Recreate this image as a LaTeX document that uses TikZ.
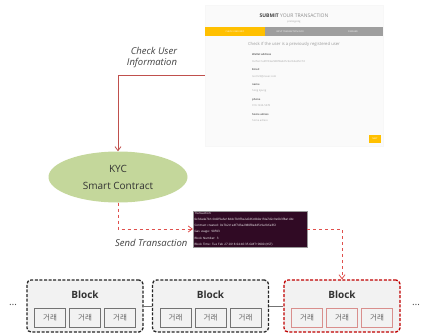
\documentclass[tikz,border=0pt]{standalone}
\usepackage{fontspec}
\setmainfont{Open Sans}
\newfontfamily\krfont{Noto Sans CJK KR}
\usetikzlibrary{shapes.geometric,arrows.meta}

\definecolor{formbg}{HTML}{FAFAFA}
\definecolor{tabyellow}{HTML}{FFC000}
\definecolor{tabgray}{HTML}{9E9E9E}
\definecolor{termbg}{HTML}{300A24}
\definecolor{kycgreen}{HTML}{C4D79B}
\definecolor{lineRed}{HTML}{C0504D}
\definecolor{dashRed}{HTML}{E0504D}
\definecolor{blockgray}{HTML}{F2F2F2}
\definecolor{blockRed}{HTML}{C00000}
\definecolor{txRed}{HTML}{D98F8D}

\tikzset{
  blockbox/.style={draw=black!85, dash pattern=on 3pt off 1.6pt, line width=1.3pt,
    rounded corners=4pt, fill=blockgray, minimum width=116pt, minimum height=52pt},
  txbox/.style={line width=0.8pt, fill=blockgray, minimum width=31pt,
    minimum height=19pt, inner sep=0pt, font=\krfont\fontsize{7.5}{8}\selectfont, text=black!60},
  blocktitle/.style={font=\bfseries\fontsize{10}{12}\selectfont, text=black!80},
  steplabel/.style={font=\itshape\fontsize{9.5}{11}\selectfont, text=black!75, align=right},
  fieldname/.style={font=\bfseries\fontsize{2.6}{3}\selectfont, text=black!60, anchor=west, inner sep=0pt},
  fieldvalue/.style={font=\fontsize{2.6}{3}\selectfont, text=black!35, anchor=west, inner sep=0pt},
  tabtext/.style={font=\fontsize{2.2}{3}\selectfont, text=white, inner sep=0pt},
  arrowhd/.style={-{Straight Barb[length=4pt,width=6pt]}}
}

\begin{document}
\begin{tikzpicture}[x=1pt,y=-1pt]

    \useasboundingbox (0,0) rectangle (423,335);

    % Draw the web form
    \node[draw=black!3, fill=formbg, minimum width=178pt, minimum height=141pt, inner sep=0pt] (form) at (294,75.5) {};
    \node[font=\fontsize{5}{6}\selectfont, text=black!45, inner sep=0pt] (formtitle) at (294,16)
        {\textcolor{black!75}{\bfseries SUBMIT} YOUR TRANSACTION};
    \node[font=\fontsize{2.4}{3}\selectfont, text=black!40, inner sep=0pt] (formsub) at (294,22) {prototyping};
    \fill[tabyellow] (205,27) rectangle (265,36);
    \fill[tabgray] (265,27) rectangle (383,36);
    \node[tabtext] (tab1) at (235,31.5) {CHECK USER INFO};
    \node[tabtext] (tab2) at (290,31.5) {INPUT TRANSACTION INFO};
    \node[tabtext] (tab3) at (353,31.5) {FINISHED};
    \node[font=\fontsize{4.2}{5}\selectfont, text=black!40, inner sep=0pt] (formhead) at (294,44)
        {Check if the user is a previously registered user};
    \node[fieldname] (f1) at (252,55) {Wallet address};
    \node[fieldvalue] (v1) at (252,62) {0x7b2c1e4f7d3a2980f8e4d5c9a1b6e3f2c7d};
    \node[fieldname] (f2) at (252,70) {Email};
    \node[fieldvalue] (v2) at (252,77) {test123@naver.com};
    \node[fieldname] (f3) at (252,85) {name};
    \node[fieldvalue] (v3) at (252,91) {hong kyung};
    \node[fieldname] (f4) at (252,100) {phone};
    \node[fieldvalue] (v4) at (252,106) {010-1234-5678};
    \node[fieldname] (f5) at (252,115) {home adress};
    \node[fieldvalue] (v5) at (252,121) {home adress};
    \node[fill=tabyellow, minimum width=12pt, minimum height=8pt, inner sep=0pt,
          font=\fontsize{2.2}{3}\selectfont, text=white] (next) at (375,138.5) {NEXT};

    % Draw the smart contract
    \node[ellipse, fill=kycgreen, minimum width=139pt, minimum height=51pt, align=center,
          font=\fontsize{10}{17}\selectfont, text=black!80] (kyc) at (118,177) {KYC\\Smart Contract};

    % Draw the check from the form
    \draw[lineRed, line width=0.8pt, arrowhd] (form.west) -| (kyc.north);
    \node[steplabel] (check) at (152,58) {Check User\\Information};

    % Draw the terminal output
    \node[fill=termbg, draw=black!40, line width=0.3pt, minimum width=114pt, minimum height=34pt,
          inner sep=1.5pt, align=left, text width=111pt, text=white,
          font=\fontsize{3}{6.2}\selectfont] (term) at (250,229)
        {Transaction: 0x3da4e7b1c0d2f9a6e18d4c7b9f3e2a5d6c8b0e1f4a7d2c9e6b3f8a1d4c\\
         Contract created: 0x7b2c1e4f7d3a2980f8e4d5c9a1b6e3f2\\
         Gas usage: 90593\\
         Block Number: 3\\
         Block Time: Tue Feb 27 2018 04:46:35 GMT+0900 (KST)};

    % Draw the transaction being sent
    \draw[dashRed, line width=0.8pt, dashed, arrowhd] (kyc.south) |- (term.west);
    \node[steplabel, anchor=east] (send) at (191,243) {Send Transaction};

    % Draw the chain of blocks
    \node[blockbox] (blk1) at (85,306) {};
    \node[blockbox] (blk2) at (210.5,306) {};
    \node[blockbox, draw=blockRed] (blk3) at (342,306) {};
    \node[blocktitle] (blk1t) at (85,295) {Block};
    \node[blocktitle] (blk2t) at (210.5,295) {Block};
    \node[blocktitle] (blk3t) at (342,295) {Block};
    \foreach \b/\c in {1/black!55, 2/black!55, 3/txRed} {
        \node[txbox, draw=\c] (tx\b a) at ([xshift=-35pt,yshift=-11.5pt]blk\b.center) {거래};
        \node[txbox, draw=\c] (tx\b b) at ([yshift=-11.5pt]blk\b.center) {거래};
        \node[txbox, draw=\c] (tx\b c) at ([xshift=35pt,yshift=-11.5pt]blk\b.center) {거래};
    }
    \draw[black!55, line width=0.8pt] (blk1.east) -- (blk2.west);
    \draw[black!55, line width=0.8pt] (blk2.east) -- (blk3.west);
    \node[text=black!70] (dotsL) at (13,305) {\dots};
    \node[text=black!70] (dotsR) at (416,305) {\dots};

    % Draw the new block being added
    \draw[dashRed, line width=0.8pt, dashed, arrowhd] (term.east) -| (blk3.north);

\end{tikzpicture}
\end{document}
